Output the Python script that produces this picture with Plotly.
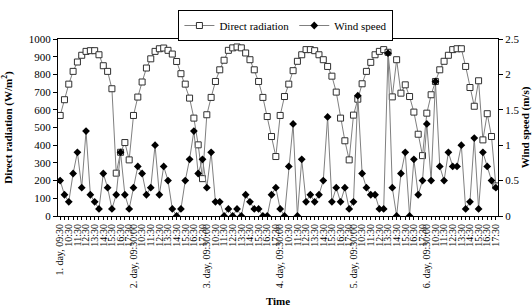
import plotly.graph_objects as go

# ---- data -------------------------------------------------------------
days = ["1. day", "2. day", "3. day", "4. day", "5. day", "6. day"]
times = ["09:30", "10:00", "10:30", "11:00", "11:30", "12:00", "12:30", "13:00",
         "13:30", "14:00", "14:30", "15:00", "15:30", "16:00", "16:30", "17:00", "17:30"]

direct_radiation = [
    568, 657, 745, 817, 870, 908, 930, 934, 934, 911, 849, 817, 719, 242, 360, 415, 317,
    568, 672, 757, 836, 888, 930, 945, 949, 936, 915, 873, 804, 745, 666, 553, 402, 211,
    572, 670, 760, 826, 880, 936, 950, 955, 950, 921, 883, 826, 760, 670, 562, 449, 336,
    568, 675, 745, 821, 874, 911, 940, 940, 934, 911, 883, 845, 790, 700, 553, 425, 317,
    570, 660, 747, 817, 868, 911, 930, 940, 925, 673, 883, 694, 741, 675, 587, 462, 341,
    581, 685, 760, 826, 874, 908, 940, 945, 945, 845, 726, 620, 764, 430, 578, 449, 170,
]

wind_speed = [
    0.5, 0.3, 0.2, 0.6, 0.9, 0.4, 1.2, 0.3, 0.2, 0.1, 0.6, 0.4, 0.1, 0.3, 0.9, 0.3, 0.1,
    0.4, 0.7, 0.6, 0.3, 0.4, 1.0, 0.3, 0.7, 0.5, 0.1, 0.0, 0.1, 0.5, 0.8, 1.2, 0.6, 0.8,
    0.4, 0.9, 0.2, 0.2, 0.0, 0.1, 0.0, 0.1, 0.0, 0.3, 0.2, 0.1, 0.1, 0.0, 0.0, 0.3, 0.4,
    0.1, 0.0, 0.7, 1.3, 0.0, 0.8, 0.2, 0.3, 0.2, 0.3, 0.5, 1.4, 0.2, 0.4, 0.2, 0.4, 0.1,
    0.2, 1.7, 0.6, 0.4, 0.3, 0.3, 0.1, 0.1, 2.3, 0.4, 0.0, 0.6, 0.9, 0.0, 0.8, 0.3, 0.5,
    1.3, 0.5, 1.9, 0.7, 0.5, 0.9, 0.7, 0.7, 1.0, 0.1, 0.2, 1.1, 0.1, 0.9, 0.7, 0.5, 0.4,
]

# ---- tick labels (every other half-hour point is labelled) ----------------
tick_labels = []
for d_i, d in enumerate(days):
    for t_i, t in enumerate(times):
        if t_i == 0:
            tick_labels.append(f"{d}, 09:30" if d_i == 0 else f"{d}, 09:30:00")
        elif t_i % 2 == 0:
            tick_labels.append(t)
        else:
            tick_labels.append("")
x = list(range(len(tick_labels)))

FONT = "Liberation Serif"

fig = go.Figure()
fig.add_trace(go.Scatter(
    x=x, y=direct_radiation, name="Direct radiation", mode="lines+markers",
    line=dict(color="#808080", width=1),
    marker=dict(symbol="square", size=6, color="white", line=dict(color="#303030", width=1)),
))
fig.add_trace(go.Scatter(
    x=x, y=wind_speed, name="Wind speed", mode="lines+markers", yaxis="y2",
    line=dict(color="#808080", width=1),
    marker=dict(symbol="diamond", size=6, color="black", line=dict(width=0)),
))

fig.update_layout(
    width=532, height=307,
    margin=dict(l=58, r=34, t=39, b=91, autoexpand=False),
    paper_bgcolor="white", plot_bgcolor="white",
    font=dict(family=FONT, color="black", size=11),
    showlegend=True,
    legend=dict(orientation="h", xref="paper", x=0.518, xanchor="center",
                yref="container", y=1 - 10 / 307, yanchor="top",
                bordercolor="black", borderwidth=1, font=dict(size=11),
                itemwidth=30, tracegroupgap=0),
    xaxis=dict(range=[-0.5, len(x) - 0.5], tickmode="array", tickvals=x, ticktext=tick_labels,
               tickangle=-90, tickfont=dict(size=10, family=FONT),
               ticks="outside", ticklen=3, tickcolor="black",
               showline=True, linecolor="black", linewidth=1, mirror=True,
               showgrid=False, zeroline=False,
               title=dict(text="<b>Time</b>", font=dict(size=11), standoff=36)),
    xaxis2=dict(range=[-0.5, len(x) - 0.5], overlaying="x", anchor="y", side="bottom",
                tickmode="array", tickvals=x, ticks="inside", ticklen=3, tickcolor="black",
                showticklabels=False, showline=False, showgrid=False, zeroline=False),
    yaxis=dict(range=[0, 1000], dtick=100, ticks="outside", ticklen=4, tickcolor="black",
               showline=True, linecolor="black", linewidth=1, mirror=True,
               showgrid=False, zeroline=False, tickfont=dict(size=11),
               title=dict(text="<b>Direct radiation (W/m<sup>2</sup>)</b>", font=dict(size=11))),
    yaxis2=dict(range=[0, 2.5], dtick=0.5, overlaying="y", side="right",
                ticks="outside", ticklen=4, tickcolor="black",
                showline=True, linecolor="black", linewidth=1,
                showgrid=False, zeroline=False, tickfont=dict(size=11),
                title=dict(text="<b>Wind speed (m/s)</b>", font=dict(size=11))),
)

fig.write_html("out.html", config={"displayModeBar": False},
               post_script="document.body.style.margin='0';document.body.style.overflow='hidden';")
